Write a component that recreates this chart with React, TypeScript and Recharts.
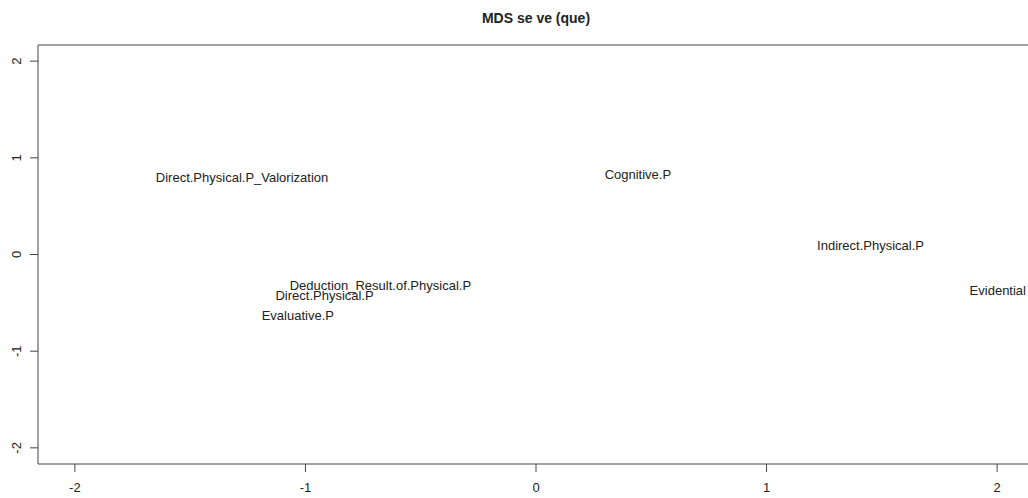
import React from "react";
import { ScatterChart, Scatter, XAxis, YAxis, ReferenceLine } from "recharts";

const labels = [
  "Direct.Physical.P_Valorization",
  "Cognitive.P",
  "Indirect.Physical.P",
  "Evidential",
  "Deduction_Result.of.Physical.P",
  "Direct.Physical.P",
  "Evaluative.P",
];
const xValues = [-1.275, 0.442, 1.451, 2.003, -0.675, -0.917, -1.033];
const yValues = [0.795, 0.829, 0.091, -0.368, -0.32, -0.423, -0.63];

const xTicks = [-2, -1, 0, 1, 2];
const yTicks = [-2, -1, 0, 1, 2];
const xDomain: [number, number] = [-2.16, 2.16];
const yDomain: [number, number] = [-2.167, 2.167];
const title = "MDS se ve (que)";

const data = labels.map((name, i) => ({ name, x: xValues[i], y: yValues[i] }));

const FONT = "'Liberation Sans', Arial, sans-serif";
const TEXT = "#222";
const LINE = "#444";

const LabelShape = (props: any) => {
  const { cx, cy, payload } = props;
  if (cx == null || cy == null) return null;
  return (
    <text
      x={cx}
      y={cy}
      dy={4.7}
      textAnchor="middle"
      fontFamily={FONT}
      fontSize={13}
      fill={TEXT}
    >
      {payload.name}
    </text>
  );
};

const XTick = (props: any) => {
  const { x, y, payload } = props;
  return (
    <text x={x} y={y} dy={20} textAnchor="middle" fontFamily={FONT} fontSize={13} fill={TEXT}>
      {payload.value}
    </text>
  );
};

const YTick = (props: any) => {
  const { x, y, payload } = props;
  return (
    <g transform={`translate(${x - 9},${y})`}>
      <text transform="rotate(-90)" textAnchor="middle" fontFamily={FONT} fontSize={13} fill={TEXT}>
        {payload.value}
      </text>
    </g>
  );
};

export default function App() {
  return (
    <div
      style={{
        position: "absolute",
        left: 0,
        top: 0,
        width: 1028,
        height: 498,
        overflow: "hidden",
        background: "#fff",
      }}
    >
      <svg
        width={1028}
        height={40}
        style={{ position: "absolute", left: 0, top: 0, zIndex: 2 }}
      >
        <text
          x={536}
          y={23}
          textAnchor="middle"
          fontFamily={FONT}
          fontSize={14}
          fontWeight="bold"
          fill={TEXT}
        >
          {title}
        </text>
      </svg>
      <ScatterChart
        width={1036}
        height={498}
        margin={{ top: 45, right: 2, bottom: 0, left: 0 }}
      >
        <XAxis
          type="number"
          dataKey="x"
          domain={xDomain}
          ticks={xTicks}
          allowDataOverflow
          height={34}
          tickSize={8}
          tickMargin={0}
          tick={<XTick />}
          tickLine={{ stroke: LINE }}
          axisLine={{ stroke: LINE }}
          interval={0}
        />
        <YAxis
          type="number"
          dataKey="y"
          domain={yDomain}
          ticks={yTicks}
          allowDataOverflow
          width={38}
          tickSize={8}
          tickMargin={0}
          tick={<YTick />}
          tickLine={{ stroke: LINE }}
          axisLine={{ stroke: LINE }}
          interval={0}
        />
        <ReferenceLine y={yDomain[1]} stroke={LINE} />
        <ReferenceLine x={xDomain[1]} stroke={LINE} />
        <Scatter data={data} shape={<LabelShape />} isAnimationActive={false} />
      </ScatterChart>
    </div>
  );
}
